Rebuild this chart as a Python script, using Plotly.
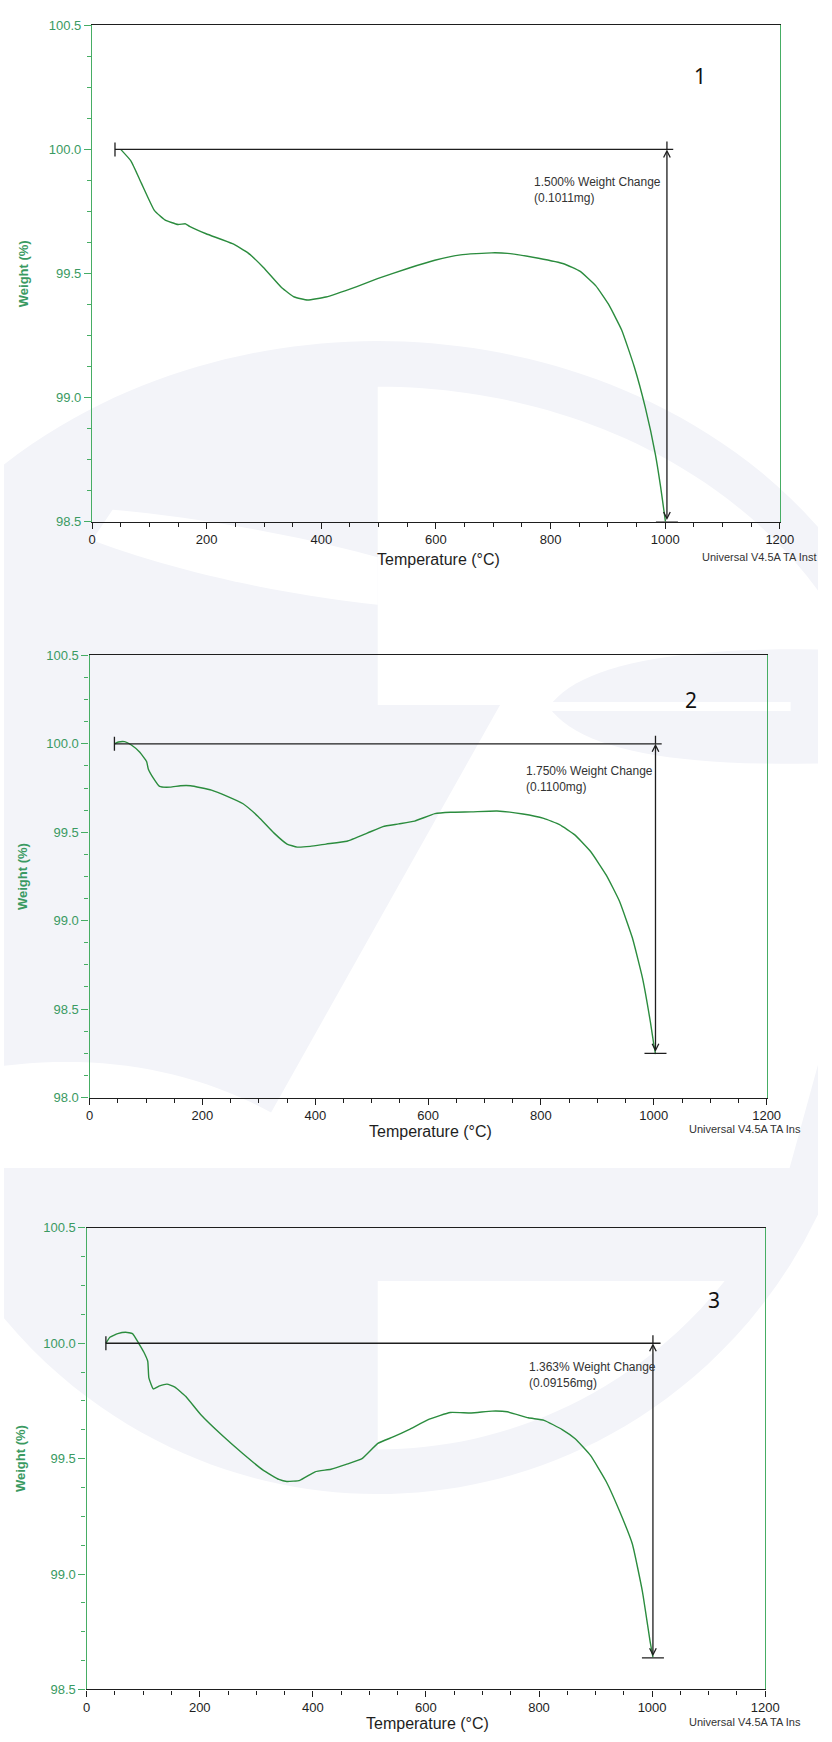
import numpy as np
import plotly.graph_objects as go

# ---------------- data ----------------
temp1 = [50, 68, 86, 109, 127, 150, 163, 170, 199, 245, 272, 299, 331, 353, 376, 408, 462, 498, 552, 598,
         643, 697, 725, 779, 824, 851, 879, 901, 924, 946, 965, 983, 992, 998, 1001]
weight1 = [100.0, 99.953, 99.864, 99.753, 99.716, 99.697, 99.70, 99.69, 99.66, 99.62, 99.583, 99.524, 99.442,
           99.405, 99.393, 99.405, 99.447, 99.479, 99.521, 99.553, 99.575, 99.583, 99.581, 99.561, 99.538,
           99.509, 99.450, 99.376, 99.272, 99.124, 98.962, 98.769, 98.64, 98.54, 98.49]

temp2 = [44, 51, 62, 74, 89, 101, 104, 113, 124, 143, 161, 179, 216, 244, 272, 299, 327, 350, 368, 391, 419,
         456, 492, 520, 548, 576, 612, 640, 676, 722, 768, 805, 833, 860, 888, 916, 939, 962, 980, 994, 1000,
         1003]
weight2 = [100.0, 100.01, 100.012, 99.993, 99.952, 99.90, 99.858, 99.806, 99.759, 99.755, 99.763, 99.763,
           99.738, 99.703, 99.661, 99.588, 99.495, 99.433, 99.416, 99.42, 99.433, 99.449, 99.495, 99.532,
           99.547, 99.563, 99.605, 99.613, 99.615, 99.62, 99.603, 99.578, 99.543, 99.485, 99.391, 99.256,
           99.111, 98.903, 98.675, 98.426, 98.30, 98.245]

temp3 = [34, 41, 55, 69, 81, 92, 101, 108, 110, 118, 129, 142, 156, 175, 202, 239, 276, 312, 340, 354, 377,
         404, 432, 459, 487, 515, 542, 570, 606, 643, 680, 717, 744, 781, 809, 841, 864, 891, 919, 942, 965,
         983, 997, 1001.5]
weight3 = [100.0, 100.026, 100.042, 100.048, 100.042, 100.0, 99.962, 99.922, 99.85, 99.802, 99.815, 99.823,
           99.81, 99.77, 99.69, 99.602, 99.522, 99.45, 99.41, 99.401, 99.406, 99.443, 99.454, 99.475, 99.50,
           99.566, 99.594, 99.626, 99.671, 99.70, 99.698, 99.706, 99.703, 99.677, 99.666, 99.626, 99.586,
           99.514, 99.40, 99.275, 99.131, 98.923, 98.70, 98.64]

temps = [temp1, temp2, temp3]
weights = [weight1, weight2, weight3]

panel_labels = ["1", "2", "3"]
change_pct = [1.500, 1.750, 1.363]
change_mg = ["0.1011", "0.1100", "0.09156"]
ref_weight = [100.0, 100.0, 100.0]
step_start = [40, 44, 34]
step_arrow = [1003, 1003, 1001.5]
step_end = [1014, 1014, 1015]

y_ranges = [[98.5, 100.5], [98.0, 100.5], [98.5, 100.5]]
x_range = [0, 1200]
x_ticks = [0, 200, 400, 600, 800, 1000, 1200]
footer = ["Universal V4.5A TA Inst", "Universal V4.5A TA Ins", "Universal V4.5A TA Ins"]

# ---------------- layout geometry (pixels) ----------------
W, H = 832, 1742
boxes = [  # left, right, top, bottom
    (90, 793, 18.5, 519),
    (87.5, 779.5, 654, 1100),
    (84.5, 778, 1231.5, 1697),
]
label_pos = [(711, 70), (702, 699), (726, 1304)]
note_pos = [(540, 185), (532, 779), (535, 1380)]
ytitle_pos = [(20, 269), (19, 877), (17, 1464)]
xtitle_pos = [(444, 557), (436, 1134), (433, 1731)]
footer_pos = [(711, 555), (698, 1132), (698, 1730)]


def px(x):
    return x / W


def py(y):
    return 1 - y / H


def path_from(points):
    s = "M " + " L ".join(f"{px(x):.5f},{py(y):.5f}" for x, y in points)
    return s + " Z"


def ellipse_pts(cx, cy, rx, ry, xs, lower=False):
    out = []
    for x in xs:
        v = max(0.0, 1 - ((x - cx) / rx) ** 2)
        d = ry * np.sqrt(v)
        out.append((x, cy + d if lower else cy - d))
    return out


def quad_pts(p0, p1, p2, n=24):
    t = np.linspace(0, 1, n)
    return [((1 - s) ** 2 * p0[0] + 2 * (1 - s) * s * p1[0] + s ** 2 * p2[0],
             (1 - s) ** 2 * p0[1] + 2 * (1 - s) * s * p1[1] + s ** 2 * p2[1]) for s in t]


FONT = "Liberation Sans, Arial, sans-serif"
CURVE = "#2b8c3e"
FRAME_GREEN = "#46ad64"
LABEL_GREEN = "#3a9a62"
DARK = "#1e1e1e"
WM = "#f3f4f9"

# ---------------- faint background watermark ----------------
wm_shapes = []
# upper logo: outer arc + inner ring + left body + diagonal stroke
outer = ellipse_pts(382, 800, 560, 463, np.linspace(0, 832, 60))
inner = ellipse_pts(382, 800, 522, 417, np.linspace(832, 382, 40))
crest = quad_pts((273, 1115), (150, 1050), (0, 1068))
upper = outer + [(832, 589)] + inner + [(382, 704), (507, 704), (273, 1115)] + crest[1:]
wm_shapes.append(upper)
# lens on the right with its bar
lens = quad_pts((557, 706), (600, 645), (832, 648)) + [(832, 763)] + quad_pts((832, 763), (600, 768), (557, 706))
wm_shapes.append(lens)
# lower logo: ring
ring_out = ellipse_pts(382, 1000, 500, 500, np.linspace(0, 832, 60), lower=True)
ring_in = [(832, 1067)] + [(803, 1171)]
lower_body = ring_out + ring_in + [(0, 1171)]
wm_shapes.append(lower_body)

white_shapes = []
swoosh = quad_pts((111, 507), (250, 520), (382, 555)) + [(382, 603)] + quad_pts((382, 603), (220, 585), (90, 538))
white_shapes.append(swoosh)
white_shapes.append([(557, 701), (804, 701), (804, 710), (557, 710)])
inner_low = ellipse_pts(382, 1000, 455, 455, np.linspace(737, 382, 30), lower=True)
white_shapes.append([(382, 1285), (737, 1285)] + inner_low)

shapes = []
for pts in wm_shapes:
    shapes.append(dict(type="path", xref="paper", yref="paper", path=path_from(pts),
                       fillcolor=WM, line=dict(width=0), layer="below"))
for pts in white_shapes:
    shapes.append(dict(type="path", xref="paper", yref="paper", path=path_from(pts),
                       fillcolor="white", line=dict(width=0), layer="below"))

fig = go.Figure()
layout = dict(
    width=W, height=H, margin=dict(l=0, r=0, t=0, b=0),
    paper_bgcolor="white", plot_bgcolor="rgba(0,0,0,0)", showlegend=False,
    font=dict(family=FONT, color=DARK),
)
annotations = []

for i in range(3):
    n = "" if i == 0 else str(i + 1)
    xa, ya = "x" + n, "y" + n
    l, r, t, b = boxes[i]
    fig.add_trace(go.Scatter(x=temps[i], y=weights[i], mode="lines", xaxis=xa, yaxis=ya,
                             line=dict(color=CURVE, width=1.4, shape="spline", smoothing=0.4),
                             hoverinfo="skip"))
    layout["xaxis" + n] = dict(
        domain=[px(l), px(r)], anchor=ya, range=x_range, tickvals=x_ticks,
        showline=True, linecolor=DARK, linewidth=1.4, mirror=True,
        ticks="outside", ticklen=6, tickwidth=1.2, tickcolor=DARK,
        minor=dict(dtick=50, tick0=0, ticks="outside", ticklen=4, tickwidth=1.2, tickcolor=DARK),
        showgrid=False, zeroline=False,
        tickfont=dict(family=FONT, size=13, color=DARK),
    )
    layout["yaxis" + n] = dict(
        domain=[py(b), py(t)], anchor=xa, range=y_ranges[i], dtick=0.5, tick0=98.0,
        tickformat=".1f",
        showline=True, linecolor=FRAME_GREEN, linewidth=1.4, mirror=True,
        ticks="outside", ticklen=7, tickwidth=1.2, tickcolor=FRAME_GREEN,
        minor=dict(dtick=0.125, tick0=98.0, ticks="outside", ticklen=4, tickwidth=1.2,
                   tickcolor=FRAME_GREEN),
        showgrid=False, zeroline=False,
        tickfont=dict(family=FONT, size=13, color=LABEL_GREEN),
    )

    low = ref_weight[i] - change_pct[i]
    blk = dict(color=DARK, width=1.3)
    shapes.append(dict(type="line", xref=xa, yref=ya, x0=step_start[i], x1=step_end[i],
                       y0=ref_weight[i], y1=ref_weight[i], line=blk))
    shapes.append(dict(type="line", xref=xa, yref=ya, x0=step_start[i], x1=step_start[i],
                       ysizemode="pixel", yanchor=ref_weight[i], y0=-7, y1=7, line=blk))
    shapes.append(dict(type="line", xref=xa, yref=ya, x0=step_arrow[i], x1=step_arrow[i],
                       ysizemode="pixel", yanchor=ref_weight[i], y0=0, y1=8, line=blk))
    shapes.append(dict(type="line", xref=xa, yref=ya, y0=low, y1=low,
                       xsizemode="pixel", xanchor=step_arrow[i], x0=-11, x1=11, line=blk))
    annotations.append(dict(xref=xa, yref=ya, axref=xa, ayref=ya,
                            x=step_arrow[i], y=ref_weight[i], ax=step_arrow[i], ay=low,
                            text="", showarrow=True, arrowside="end+start",
                            arrowhead=5, startarrowhead=5, arrowsize=1.0, startarrowsize=1.0,
                            arrowwidth=1.3, arrowcolor=DARK, standoff=0, startstandoff=0))
    nx, ny = note_pos[i]
    annotations.append(dict(xref="paper", yref="paper", x=px(nx), y=py(ny), xanchor="left",
                            yanchor="middle", align="left", showarrow=False,
                            text=f"{change_pct[i]:.3f}% Weight Change<br>({change_mg[i]}mg)",
                            font=dict(family=FONT, size=12, color="#333333")))
    lx, ly = label_pos[i]
    annotations.append(dict(xref="paper", yref="paper", x=px(lx), y=py(ly), showarrow=False,
                            text=panel_labels[i], xanchor="center", yanchor="middle",
                            font=dict(family="Noto Sans, sans-serif", size=21, color="#111111")))
    tx, ty = ytitle_pos[i]
    annotations.append(dict(xref="paper", yref="paper", x=px(tx), y=py(ty), showarrow=False,
                            text="<b>Weight (%)</b>", textangle=-90, xanchor="center", yanchor="middle",
                            font=dict(family=FONT, size=13, color=LABEL_GREEN)))
    tx, ty = xtitle_pos[i]
    annotations.append(dict(xref="paper", yref="paper", x=px(tx), y=py(ty), showarrow=False,
                            text="Temperature (°C)", xanchor="center", yanchor="middle",
                            font=dict(family=FONT, size=16, color=DARK)))
    fx, fy = footer_pos[i]
    annotations.append(dict(xref="paper", yref="paper", x=px(fx), y=py(fy), showarrow=False,
                            text=footer[i], xanchor="left", yanchor="middle",
                            font=dict(family=FONT, size=11, color="#333333")))

layout["shapes"] = shapes
layout["annotations"] = annotations
fig.update_layout(**layout)

fig.write_html("out.html", config={"displayModeBar": False},
               post_script="document.body.style.margin='0';document.body.style.overflow='hidden';")
